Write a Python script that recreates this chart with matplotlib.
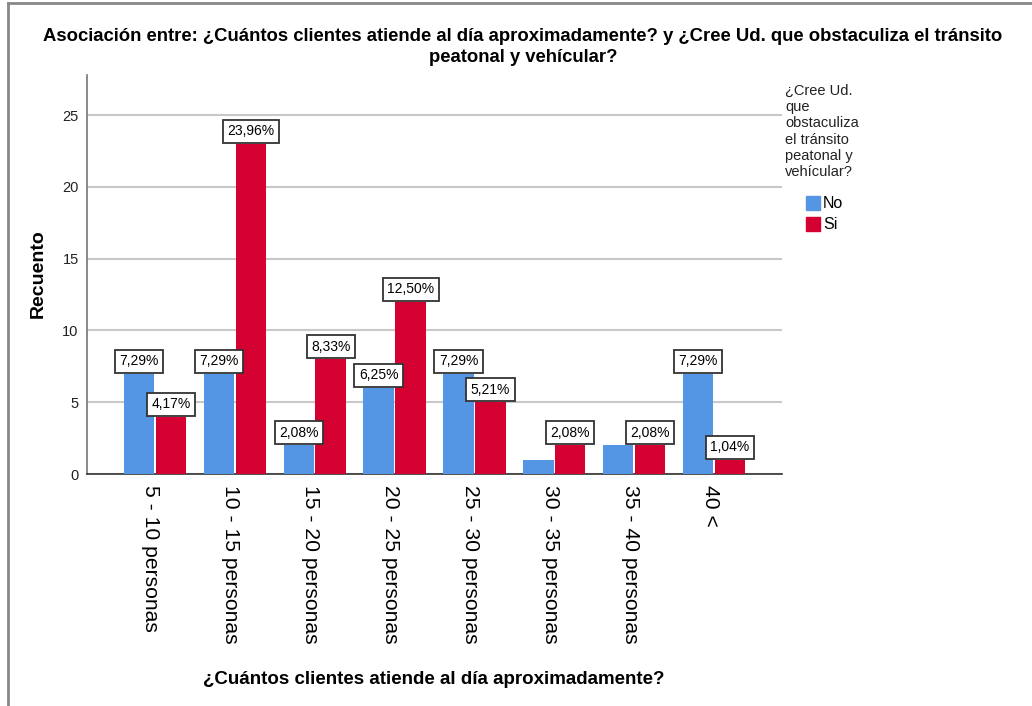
import matplotlib.pyplot as plt
import numpy as np
import matplotlib.transforms as mtransforms
from matplotlib.lines import Line2D
from matplotlib.patches import Rectangle

categories = ['5 - 10 personas', '10 - 15 personas', '15 - 20 personas', '20 - 25 personas',
              '25 - 30 personas', '30 - 35 personas', '35 - 40 personas', '40 <']
no_counts = [7, 7, 2, 6, 7, 1, 2, 7]
si_counts = [4, 23, 8, 12, 5, 2, 2, 1]
# empty string = bar shown without a percentage box
no_labels = ['7,29%', '7,29%', '2,08%', '6,25%', '7,29%', '', '', '7,29%']
si_labels = ['4,17%', '23,96%', '8,33%', '12,50%', '5,21%', '2,08%', '2,08%', '1,04%']
series = ['No', 'Si']
legend_title = '¿Cree Ud.\nque\nobstaculiza\nel tránsito\npeatonal y\nvehícular?'

BLUE = '#5596E4'
RED = '#D50032'

plt.rcParams['font.family'] = ['Liberation Sans', 'DejaVu Sans']

W, H = 1032, 706
fig = plt.figure(figsize=(W / 100, H / 100), dpi=100)
ax = fig.add_axes([87 / W, 1 - 474 / H, (782 - 87) / W, (474 - 75) / H])

x = np.arange(len(categories))
w = 0.38
off = 0.2
bars_no = ax.bar(x - off, no_counts, w, color=BLUE, zorder=3)
bars_si = ax.bar(x + off, si_counts, w, color=RED, zorder=3)

# percentage boxes on top of the bars
for bars, labels in ((bars_no, no_labels), (bars_si, si_labels)):
    for b, lab in zip(bars, labels):
        if not lab:
            continue
        ax.text(b.get_x() + b.get_width() / 2, b.get_height() + 0.38, lab,
                ha='center', va='bottom', fontsize=10, zorder=4,
                bbox=dict(boxstyle='square,pad=0.32', fc='white', ec='#333333', lw=1.3))

ax.set_xlim(-0.85, len(categories) - 1 + 0.85)
ax.set_ylim(0, 27.8)
ax.set_yticks([0, 5, 10, 15, 20, 25])
ax.yaxis.grid(True, color='#C8C8C8', lw=1.5, zorder=0)
ax.set_axisbelow(True)
ax.tick_params(axis='both', length=0)
ax.tick_params(axis='y', pad=6, labelsize=10.5, labelcolor='#222222')
ax.set_xticks(x)
ax.set_xticklabels(categories, rotation=270, fontsize=15.2, va='top', ha='center')
ax.tick_params(axis='x', pad=8)
shift = mtransforms.ScaledTranslation(-4 / 100, 0, fig.dpi_scale_trans)
for t in ax.get_xticklabels():
    t.set_transform(t.get_transform() + shift)

for s in ('top', 'right'):
    ax.spines[s].set_visible(False)
ax.spines['left'].set_color('#777777')
ax.spines['bottom'].set_color('#333333')
ax.spines['left'].set_linewidth(1.2)
ax.spines['bottom'].set_linewidth(1.2)

fig.text(38 / W, 1 - 274 / H, 'Recuento', rotation=90, ha='center', va='center',
         fontsize=14, fontweight='bold')
fig.text(434 / W, 1 - 680 / H, '¿Cuántos clientes atiende al día aproximadamente?',
         ha='center', va='center', fontsize=13.5, fontweight='bold')

fig.text(523 / W, 1 - 47 / H,
         'Asociación entre: ¿Cuántos clientes atiende al día aproximadamente? y ¿Cree Ud. que obstaculiza el tránsito\npeatonal y vehícular?',
         ha='center', va='center', fontsize=13.3, fontweight='bold', linespacing=1.3)

# legend, placed by hand like the SPSS output
fig.text(785 / W, 1 - 84 / H, legend_title, ha='left', va='top', fontsize=10.5,
         linespacing=1.2, color='#222222')
for i, (name, col) in enumerate(zip(series, [BLUE, RED])):
    yc = 203 + i * 21
    fig.add_artist(Rectangle((806 / W, 1 - (yc + 7) / H), 14 / W, 14 / H,
                             transform=fig.transFigure, color=col))
    fig.text(823 / W, 1 - yc / H, name, ha='left', va='center', fontsize=11.5)

# outer frame of the output viewer
fig.add_artist(Line2D([8 / W, 1], [1 - 3 / H, 1 - 3 / H], color='#888888', lw=2))
fig.add_artist(Line2D([8 / W, 8 / W], [0, 1 - 3 / H], color='#888888', lw=2))

fig.savefig('out.png', dpi=100)
